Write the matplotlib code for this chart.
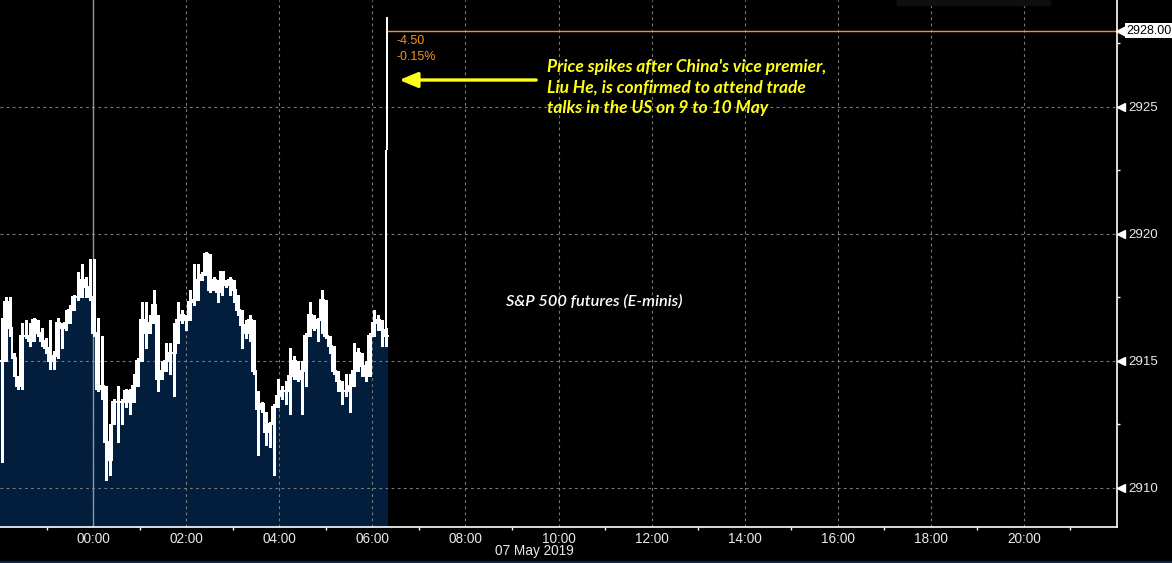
import numpy as np
import matplotlib
matplotlib.use('Agg')
import matplotlib.pyplot as plt
from matplotlib.patches import Rectangle
from matplotlib.ticker import FuncFormatter, FixedLocator

# S&P 500 E-mini futures, bars from 22:00 (6 May) to 06:20 (7 May), hours rel. to midnight
session_start = -2.0
session_end = 6 + 20 / 60

close = [2915.0, 2917.3, 2916.3, 2915.1, 2914.0, 2916.0, 2916.0, 2915.8, 2916.6, 2916.1,
         2915.8, 2915.5, 2915.0, 2915.2, 2916.5, 2916.3, 2916.5, 2917.0, 2917.5, 2917.5,
         2918.2, 2917.9, 2917.5, 2916.1, 2913.9, 2914.0, 2911.8, 2911.1, 2913.4, 2913.4,
         2913.4, 2913.8, 2913.4, 2914.0, 2915.0, 2916.6, 2916.1, 2916.5, 2917.2, 2914.3,
         2914.6, 2915.0, 2915.3, 2915.3, 2916.6, 2916.8, 2916.6, 2917.3, 2917.4, 2918.2,
         2918.4, 2919.2, 2917.8, 2918.2, 2917.7, 2918.5, 2918.0, 2918.2, 2917.8, 2917.0,
         2916.4, 2916.1, 2916.6, 2914.6, 2913.1, 2913.3, 2912.2, 2912.5, 2913.2, 2913.6,
         2913.8, 2913.8, 2914.4, 2915.0, 2914.3, 2914.6, 2916.0, 2916.8, 2916.3, 2916.6,
         2917.4, 2916.0, 2915.6, 2914.6, 2914.2, 2913.8, 2913.8, 2914.0, 2914.6, 2915.3,
         2914.8, 2914.4, 2916.0, 2916.5, 2916.6, 2916.2, 2916.0]
high = [2916.7, 2917.5, 2917.5, 2915.3, 2914.4, 2916.5, 2916.6, 2916.5, 2916.7, 2916.6,
        2916.3, 2915.9, 2916.6, 2915.4, 2916.7, 2916.5, 2917.0, 2917.2, 2917.6, 2918.5,
        2918.8, 2918.3, 2919.0, 2919.0, 2916.7, 2916.0, 2914.0, 2912.5, 2913.5, 2914.0,
        2913.5, 2913.9, 2913.9, 2914.5, 2915.1, 2917.3, 2917.3, 2916.8, 2917.8, 2916.8,
        2915.0, 2915.7, 2915.7, 2916.5, 2917.3, 2917.0, 2916.8, 2917.8, 2918.8, 2918.8,
        2918.5, 2919.3, 2919.2, 2918.3, 2918.2, 2918.5, 2918.2, 2918.3, 2918.2, 2917.6,
        2917.0, 2916.6, 2916.8, 2916.6, 2913.8, 2913.4, 2913.0, 2912.6, 2913.3, 2914.3,
        2914.0, 2914.2, 2915.5, 2915.2, 2915.0, 2915.0, 2916.1, 2917.3, 2916.8, 2916.7,
        2917.8, 2917.4, 2916.0, 2915.6, 2914.6, 2914.2, 2914.5, 2914.5, 2915.7, 2915.5,
        2915.3, 2915.0, 2916.1, 2917.0, 2916.8, 2916.6, 2916.3]
low = [2911.0, 2915.0, 2916.0, 2914.4, 2913.9, 2913.9, 2915.9, 2915.6, 2915.8, 2916.0,
       2915.6, 2915.3, 2914.7, 2914.7, 2915.1, 2915.5, 2916.2, 2916.5, 2917.0, 2917.4,
       2917.5, 2917.5, 2917.4, 2916.0, 2913.8, 2913.5, 2910.3, 2910.5, 2912.5, 2911.8,
       2912.5, 2913.2, 2912.9, 2913.4, 2914.0, 2915.0, 2915.5, 2916.1, 2916.5, 2913.8,
       2914.3, 2914.6, 2914.5, 2913.6, 2915.7, 2916.5, 2916.2, 2916.6, 2917.2, 2917.4,
       2918.2, 2918.4, 2917.7, 2917.8, 2917.3, 2917.6, 2917.9, 2917.6, 2917.3, 2916.8,
       2915.5, 2915.9, 2915.8, 2914.5, 2911.3, 2913.0, 2911.7, 2911.6, 2910.5, 2913.2,
       2913.5, 2913.3, 2912.9, 2914.3, 2914.2, 2912.9, 2914.0, 2916.0, 2916.2, 2915.8,
       2916.1, 2915.9, 2915.3, 2914.5, 2913.8, 2913.3, 2913.6, 2913.0, 2914.0, 2914.6,
       2914.4, 2914.2, 2914.4, 2916.0, 2916.2, 2915.6, 2915.6]

# the spike at the end (06:17 and 06:19)
spike_time = [6 + 17 / 60, 6 + 19 / 60]
spike_low = [2916.0, 2923.3]
spike_high = [2923.3, 2928.55]
last_price = 2928.00
change = '-4.50'
change_pct = '-0.15%'

yticks = [2910, 2915, 2920, 2925]
xticks = list(range(0, 21, 2))

navy = '#021e3c'
orange = '#f7901e'
yellow = '#ffff1a'
txtcol = '#e6eaf0'

fig = plt.figure(figsize=(11.72, 5.63), dpi=100, facecolor='black')
ax = fig.add_axes([0, 1 - 527 / 563, 1117 / 1172, 527 / 563])
ax.set_facecolor('black')

edges = np.linspace(session_start, session_end, len(close) + 1)
centers = (edges[:-1] + edges[1:]) / 2
step_y = close + [close[-1]]

ax.fill_between(edges, 2900, step_y, step='post', color=navy, lw=0, zorder=0.5)
ax.step(edges, step_y, where='post', color='white', lw=1.1, zorder=3, antialiased=False)
ax.vlines(centers, low, high, color='white', lw=1.0, zorder=3, antialiased=False)
ax.vlines(spike_time, spike_low, spike_high, color='white', lw=1.4, zorder=3, antialiased=False)

ax.axvline(0, color='#8797ab', lw=1, zorder=1.6)
ax.hlines(last_price, spike_time[-1], 22, color=orange, lw=1, zorder=2)

ax.set_xlim(-2, 22)
ax.set_ylim(2908.46, 2929.21)

# grid
ax.set_axisbelow('line')
ax.grid(True, which='major', color='#7a7a7a', lw=0.8, ls=(0, (2.5, 3)))

# x axis
ax.xaxis.set_major_locator(FixedLocator(xticks))
ax.xaxis.set_minor_locator(FixedLocator(list(range(-1, 22, 2))))
ax.xaxis.set_major_formatter(FuncFormatter(lambda v, p: '%02d:00' % (int(v) % 24)))
ax.tick_params(axis='x', which='major', length=0, pad=3.5, labelsize=9.8, labelcolor=txtcol)
ax.tick_params(axis='x', which='minor', length=2.5, width=1, color='white', direction='out')
for lab in ax.get_xticklabels():
    lab.set_family('Liberation Sans')

# y axis on the right
ax.yaxis.tick_right()
ax.yaxis.set_major_locator(FixedLocator(yticks))
ax.yaxis.set_minor_locator(FixedLocator([2912.5, 2917.5, 2922.5, 2927.5]))
ax.tick_params(axis='y', which='major', length=0, pad=8, labelsize=9.6, labelcolor=txtcol)
ax.tick_params(axis='y', which='minor', length=2.5, width=1, color='white', direction='out')
for lab in ax.get_yticklabels():
    lab.set_family('Liberation Sans')
ax.plot([1.004] * len(yticks), yticks, marker='<', ms=6, color='white', ls='none',
        transform=ax.get_yaxis_transform(), clip_on=False)

for s in ['top', 'left']:
    ax.spines[s].set_visible(False)
for s in ['right', 'bottom']:
    ax.spines[s].set_color('white')
    ax.spines[s].set_linewidth(1.2)

# last price tag
ax.plot([1.004], [last_price], marker='<', ms=7, color='white', ls='none',
        transform=ax.get_yaxis_transform(), clip_on=False)
ax.annotate('%.2f' % last_price, xy=(1, last_price), xycoords=ax.get_yaxis_transform(),
            xytext=(7, 0), textcoords='offset points', ha='left', va='center',
            fontsize=9, family='Liberation Sans', color='black',
            bbox=dict(boxstyle='square,pad=0.12', fc='white', ec='none'),
            annotation_clip=False)

# change labels
ax.annotate(change, xy=(spike_time[-1], last_price), xytext=(6.5, -7.5), textcoords='offset points',
            ha='left', va='center', fontsize=9, family='Liberation Sans', color=orange)
ax.annotate(change_pct, xy=(spike_time[-1], last_price), xytext=(6.5, -19), textcoords='offset points',
            ha='left', va='center', fontsize=9, family='Liberation Sans', color=orange)

# annotation arrow + text
ax.annotate('', xy=(6.58, 2926.06), xytext=(9.52, 2926.06),
            arrowprops=dict(arrowstyle='-|>,head_length=0.55,head_width=0.23', lw=2.4,
                            color=yellow, shrinkA=0, shrinkB=0, mutation_scale=20))
ax.text(9.76, 2926.89, "Price spikes after China's vice premier,\nLiu He, is confirmed to attend trade\n"
        "talks in the US on 9 to 10 May", ha='left', va='top', fontsize=12.5, family='Lato',
        style='italic', weight='bold', color=yellow, linespacing=1.36)
ax.text(8.87, 2917.36, 'S&P 500 futures (E-minis)', ha='left', va='center', fontsize=11.8,
        family='Lato', style='italic', weight='semibold', color='white')

ax.text(9.48, -0.046, '07 May 2019', transform=ax.get_xaxis_transform(), ha='center', va='center',
        fontsize=9.8, family='Liberation Sans', color=txtcol)

# frame bits of the terminal window
fig.patches.append(Rectangle((897 / 1172, 1 - 5 / 563), 153 / 1172, 5 / 563,
                             transform=fig.transFigure, color='#0c110f', zorder=0))
fig.patches.append(Rectangle((0, 0), 1, 2.5 / 563, transform=fig.transFigure,
                             color='#0b2347', zorder=0))

fig.savefig('out.png', dpi=100, facecolor='black')
